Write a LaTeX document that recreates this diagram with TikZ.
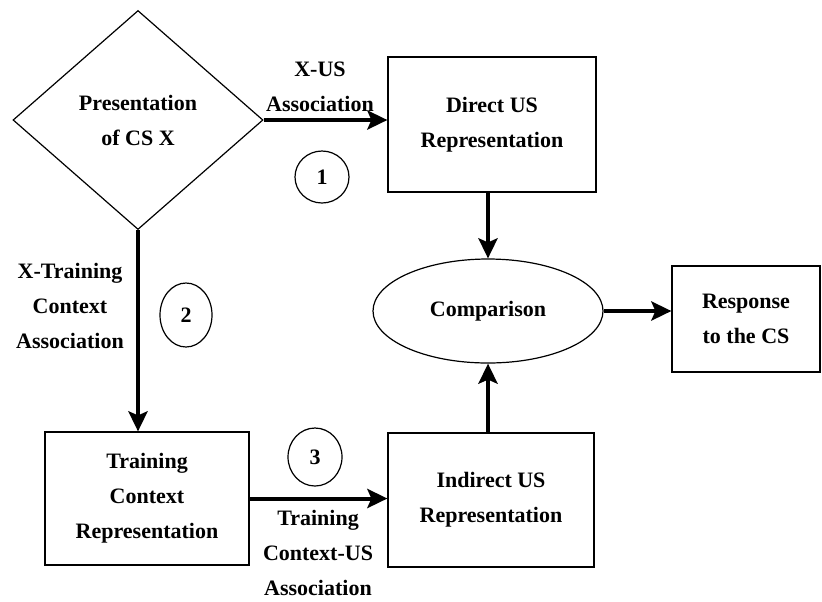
\documentclass[tikz,border=0pt]{standalone}
\usepackage{fontspec}
\setmainfont{Liberation Serif}
\usetikzlibrary{shapes.geometric, arrows.meta, positioning}

\begin{document}
\begin{tikzpicture}[x=0.5pt, y=-0.5pt,
    font=\bfseries\fontsize{11}{17.5}\selectfont,
    box/.style={rectangle, draw=black, line width=0.6pt, inner sep=0pt, align=center},
    num/.style={ellipse, draw=black, line width=0.6pt, inner sep=0pt},
    label/.style={align=center, inner sep=0pt},
    arrow/.style={-{Stealth[length=10pt, width=9.5pt, inset=2pt]}, line width=2pt}
]
\useasboundingbox (0,0) rectangle (822,601);

% Define nodes
\node[diamond, draw=black, line width=0.6pt, inner sep=0pt, aspect=1.14,
      minimum width=125pt, minimum height=109.5pt, align=center] (cs) at (138,120) {Presentation\\of CS X};
\node[box, minimum width=104pt, minimum height=67.5pt] (direct) at (492,124.5) {Direct US\\Representation};
\node[ellipse, draw=black, line width=0.6pt, inner sep=0pt,
      minimum width=115pt, minimum height=52pt] (compare) at (488,311) {Comparison};
\node[box, minimum width=74pt, minimum height=53pt] (response) at (746,319) {Response\\to the CS};
\node[box, minimum width=103pt, minimum height=67pt] (indirect) at (491,500) {Indirect US\\Representation};
\node[box, minimum width=102pt, minimum height=66.5pt] (context) at (147,498.5) {Training\\Context\\Representation};

% Numbered links
\node[num, minimum width=27pt, minimum height=26pt] (one) at (322,177) {1};
\node[num, minimum width=26pt, minimum height=32pt] (two) at (186,315) {2};
\node[num, minimum width=27pt, minimum height=29pt] (three) at (315,457) {3};

% Draw arrows
\draw[arrow] (cs.east) -- (cs.east -| direct.west);
\draw[arrow] (cs.south) -- (cs.south |- context.north);
\draw[arrow] (context.east) -- (context.east -| indirect.west);
\draw[arrow] (direct.south -| compare.north) -- (compare.north);
\draw[arrow] (indirect.north -| compare.south) -- (compare.south);
\draw[arrow] (compare.east) -- (compare.east -| response.west);

% Add labels for associations
\node[label] (xus) at (320,87) {X-US\\Association};
\node[label] (xctx) at (70,306) {X-Training\\Context\\Association};
\node[label] (ctxus) at (318,553) {Training\\Context-US\\Association};

\end{tikzpicture}
\end{document}
